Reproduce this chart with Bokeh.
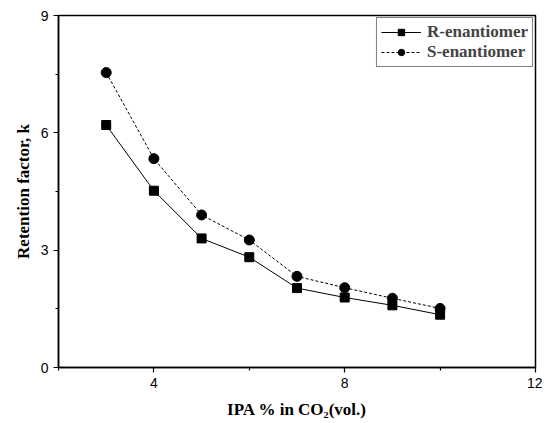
from bokeh.plotting import figure
from bokeh.models import Legend, LegendItem, FixedTicker
from bokeh.embed import file_html
from bokeh.resources import INLINE

ipa = [3, 4, 5, 6, 7, 8, 9, 10]
k_r = [6.2, 4.52, 3.3, 2.82, 2.03, 1.79, 1.59, 1.35]
k_s = [7.54, 5.34, 3.9, 3.26, 2.33, 2.04, 1.77, 1.51]
x_ticks = [4, 8, 12]
x_minor = [2, 6, 10]
y_ticks = [0, 3, 6, 9]
y_minor = [1.5, 4.5, 7.5]

p = figure(width=542, height=421, x_range=(2, 12), y_range=(0, 9),
           output_backend="svg", toolbar_location=None,
           min_border_left=58, min_border_right=7, min_border_top=15, min_border_bottom=49)

p.xgrid.visible = False
p.ygrid.visible = False
p.outline_line_color = "black"
p.outline_line_width = 1.5

p.xaxis.ticker = FixedTicker(ticks=x_ticks, minor_ticks=x_minor)
p.yaxis.ticker = FixedTicker(ticks=y_ticks, minor_ticks=y_minor)
for ax in (p.xaxis, p.yaxis):
    ax.axis_line_width = 1.5
    ax.major_tick_line_width = 1.2
    ax.minor_tick_line_width = 1.2
    ax.major_tick_out = 5
    ax.major_tick_in = 0
    ax.minor_tick_out = 3
    ax.minor_tick_in = 0
    ax.major_label_text_font = "Liberation Sans"
    ax.major_label_text_font_size = "14px"
    ax.major_label_text_color = "black"
    ax.axis_label_text_font = "Liberation Serif"
    ax.axis_label_text_font_style = "bold"
    ax.axis_label_text_font_size = "17px"
    ax.axis_label_text_color = "black"

p.xaxis.axis_label = "IPA % in CO\u2082(vol.)"
p.yaxis.axis_label = "Retention factor, k"
p.xaxis.axis_label_standoff = 9
p.yaxis.axis_label_standoff = 5

lr = p.line(ipa, k_r, line_color="black", line_width=1)
sr = p.scatter(ipa, k_r, marker="square", size=9, color="black")
ls = p.line(ipa, k_s, line_color="black", line_width=1, line_dash="3 2")
ss = p.scatter(ipa, k_s, marker="circle", size=10, color="black")

legend = Legend(items=[LegendItem(label="R-enantiomer", renderers=[lr, sr]),
                       LegendItem(label="S-enantiomer", renderers=[ls, ss])],
                location="top_right")
legend.label_text_font = "Liberation Serif"
legend.label_text_font_style = "bold"
legend.label_text_font_size = "17px"
legend.border_line_color = "black"
legend.border_line_width = 1
legend.glyph_width = 40
legend.label_standoff = 6
legend.spacing = 0
legend.padding = 4
legend.margin = 2
legend.label_height = 16
legend.glyph_height = 16
p.add_layout(legend)

open("out.html", "w").write(file_html(p, INLINE))
